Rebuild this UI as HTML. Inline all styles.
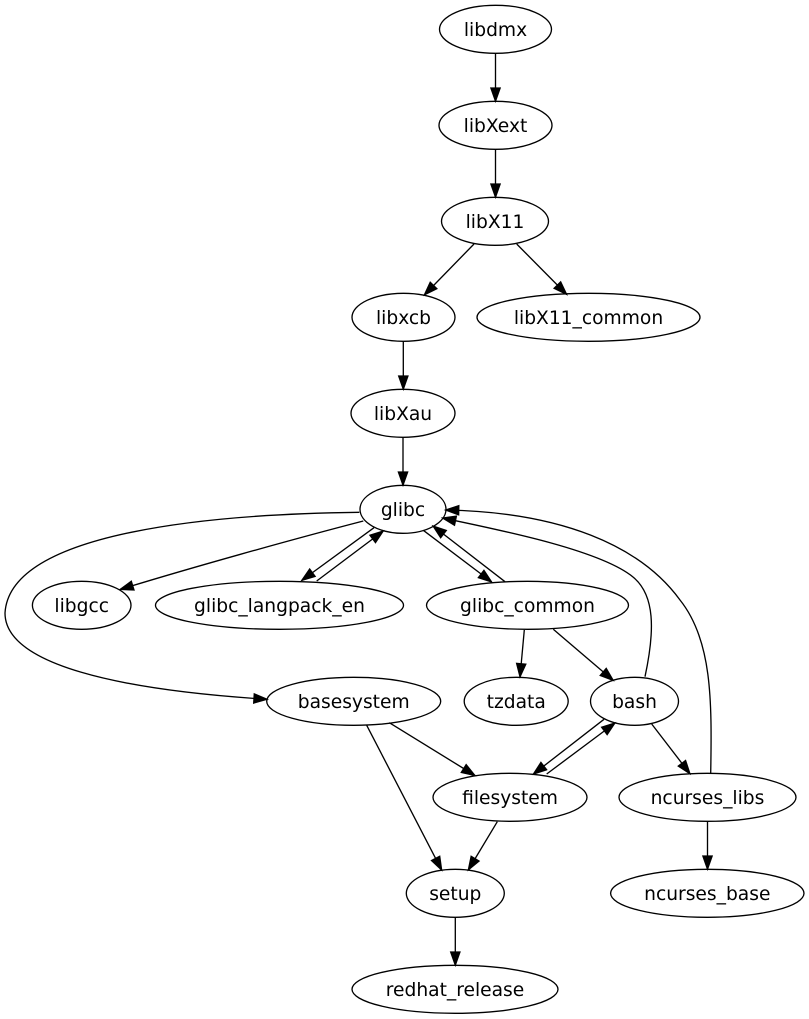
<!DOCTYPE html>
<html>
<head>
<meta charset="utf-8">
<style>
  html,body{margin:0;padding:0;background:#fff;}
  svg{display:block;}
  text{font-family:"DejaVu Sans","Liberation Sans",sans-serif;font-size:18.67px;fill:#000;}
</style>
</head>
<body>
<svg width="809" height="1019" viewBox="0 0 809 1019" xmlns="http://www.w3.org/2000/svg">
<defs>
  <marker id="a" markerUnits="userSpaceOnUse" markerWidth="16" markerHeight="12" refX="13.3" refY="4.7" orient="auto" viewBox="0 0 16 12" overflow="visible">
    <path d="M0,0 L13.3,4.7 L0,9.4 Z" fill="#000" stroke="#000" stroke-width="1.2"/>
  </marker>
</defs>
<rect width="809" height="1019" fill="#fff"/>

<g fill="none" stroke="#000" stroke-width="1.33" marker-end="url(#a)">
  <!-- libdmx -> libXext -->
  <path d="M495.5,53.3 L495.5,101.3"/>
  <!-- libXext -> libX11 -->
  <path d="M495.5,149.3 L495.5,197.3"/>
  <!-- libX11 -> libxcb -->
  <path d="M474,244 L424.3,295"/>
  <!-- libX11 -> libX11_common -->
  <path d="M516.7,244 L566.7,294.5"/>
  <!-- libxcb -> libXau -->
  <path d="M403.3,341.3 L403.3,389.3"/>
  <!-- libXau -> glibc -->
  <path d="M403,437.3 L403,485.3"/>
  <!-- glibc -> libgcc -->
  <path d="M363.3,521 C290,540 190,568 120,589.5"/>
  <!-- glibc -> glibc_langpack_en -->
  <path d="M374,527.7 L301.7,580.5"/>
  <!-- glibc_langpack_en -> glibc -->
  <path d="M316.7,581 L383.3,531"/>
  <!-- glibc -> basesystem -->
  <path d="M359.3,512.3 C220,514 10,530 5,613 C5,665 120,690 267.2,699.3"/>
  <!-- glibc -> glibc_common -->
  <path d="M423.3,530.3 L491.7,582"/>
  <!-- glibc_common -> glibc -->
  <path d="M505,581.7 L433,526"/>
  <!-- bash -> glibc -->
  <path d="M645,676.7 C655,630 655,595 633,577 C600,550 500,530 442.5,518"/>
  <!-- ncurses_libs -> glibc -->
  <path d="M710.7,773.3 C712,700 712,640 680,600 C640,545 560,512 445.5,510"/>
  <!-- glibc_common -> tzdata -->
  <path d="M524.3,630 L520,677"/>
  <!-- glibc_common -> bash -->
  <path d="M553.3,629.3 L613.3,680.5"/>
  <!-- bash -> filesystem -->
  <path d="M604,719.3 L533.3,774.2"/>
  <!-- filesystem -> bash -->
  <path d="M546.7,774 L615,723"/>
  <!-- bash -> ncurses_libs -->
  <path d="M651.7,724 L690,773.8"/>
  <!-- basesystem -> filesystem -->
  <path d="M389.3,722.7 L475,775.5"/>
  <!-- basesystem -> setup -->
  <path d="M366.7,725.3 L441.7,870.2"/>
  <!-- filesystem -> setup -->
  <path d="M497.3,821.7 L468.3,870"/>
  <!-- ncurses_libs -> ncurses_base -->
  <path d="M707.5,821.3 L707.5,869.3"/>
  <!-- setup -> redhat_release -->
  <path d="M455.3,917.3 L455.3,965.3"/>
</g>

<g fill="none" stroke="#000" stroke-width="1.33">
  <ellipse cx="495.5" cy="29.3" rx="56" ry="24"/>
  <ellipse cx="495.5" cy="125.3" rx="56.5" ry="24"/>
  <ellipse cx="495" cy="221.3" rx="53.5" ry="24"/>
  <ellipse cx="403.5" cy="317.3" rx="51.5" ry="24"/>
  <ellipse cx="588.5" cy="317.3" rx="111.5" ry="24"/>
  <ellipse cx="403" cy="413.3" rx="52" ry="24"/>
  <ellipse cx="403" cy="509.3" rx="43" ry="24"/>
  <ellipse cx="81.7" cy="605.3" rx="49.3" ry="24"/>
  <ellipse cx="279.5" cy="605.3" rx="124" ry="24"/>
  <ellipse cx="527.5" cy="605.3" rx="101" ry="24"/>
  <ellipse cx="353.7" cy="701.3" rx="87" ry="24"/>
  <ellipse cx="516.2" cy="701.3" rx="52" ry="24"/>
  <ellipse cx="634.5" cy="701.3" rx="44" ry="24"/>
  <ellipse cx="510" cy="797.3" rx="77" ry="24"/>
  <ellipse cx="707.5" cy="797.3" rx="88.5" ry="24"/>
  <ellipse cx="455.3" cy="893.3" rx="49" ry="24"/>
  <ellipse cx="707.3" cy="893.3" rx="96.7" ry="24"/>
  <ellipse cx="455" cy="989.3" rx="103" ry="24"/>
</g>

<g text-anchor="middle">
  <text x="495.5" y="35.8">libdmx</text>
  <text x="495.5" y="131.8">libXext</text>
  <text x="495" y="227.8">libX11</text>
  <text x="403.5" y="323.8">libxcb</text>
  <text x="588.5" y="323.8">libX11_common</text>
  <text x="403" y="419.8">libXau</text>
  <text x="403" y="515.8">glibc</text>
  <text x="81.7" y="611.8">libgcc</text>
  <text x="279.5" y="611.8">glibc_langpack_en</text>
  <text x="527.5" y="611.8">glibc_common</text>
  <text x="353.7" y="707.8">basesystem</text>
  <text x="516.2" y="707.8">tzdata</text>
  <text x="634.5" y="707.8">bash</text>
  <text x="510" y="803.8">filesystem</text>
  <text x="707.5" y="803.8">ncurses_libs</text>
  <text x="455.3" y="899.8">setup</text>
  <text x="707.3" y="899.8">ncurses_base</text>
  <text x="455" y="995.8">redhat_release</text>
</g>
</svg>
</body>
</html>
